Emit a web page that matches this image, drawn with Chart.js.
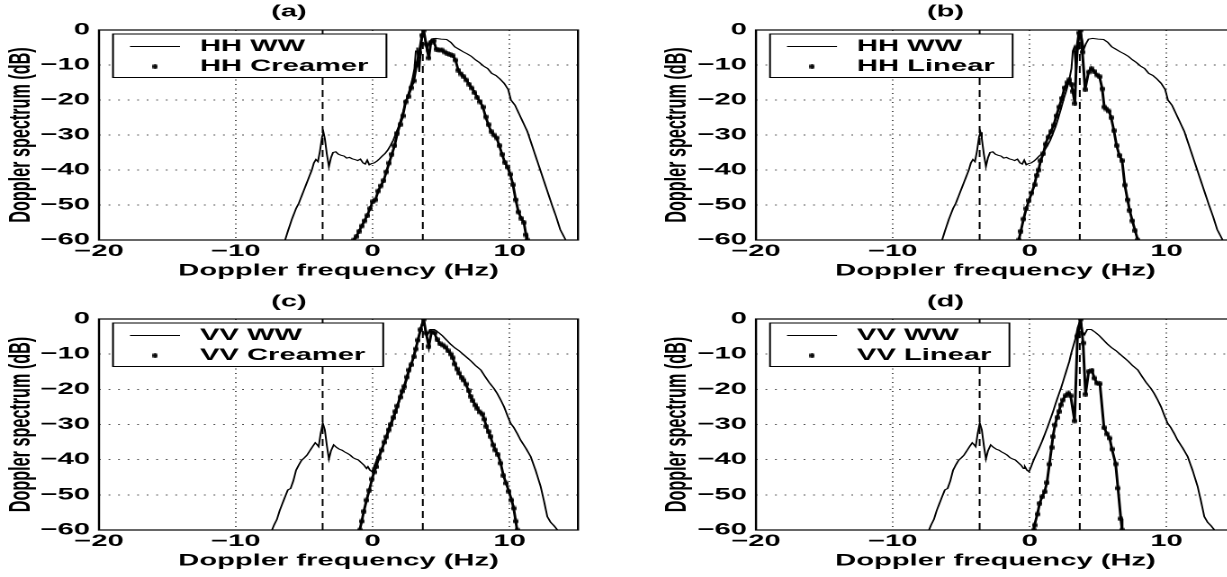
<!DOCTYPE html>
<html>
<head>
<meta charset="utf-8">
<script src="https://cdn.jsdelivr.net/npm/chart.js@4.4.0/dist/chart.umd.min.js"></script>
<style>
  html, body { margin: 0; padding: 0; background: #fff; overflow: hidden; }
  body { width: 1227px; height: 577px; position: relative; }
  .panel { position: absolute; transform-origin: 0 0; }
</style>
</head>
<body>
<div class="panel" id="pa"><canvas></canvas></div>
<div class="panel" id="pb"><canvas></canvas></div>
<div class="panel" id="pc"><canvas></canvas></div>
<div class="panel" id="pd"><canvas></canvas></div>
<script>
// axes
const xRange = [-20, 15];
const xTicks = [-20, -10, 0, 10];
const yTicks = [0, -10, -20, -30, -40, -50, -60];
const braggHz = [-3.66, 3.66];
const dbLimits = [0, -60];

// [Doppler frequency (Hz), spectrum (dB)]
const hhWW = [
  [-6.4,-60],[-6.2,-57.5],[-5.9,-54],[-5.6,-51],[-5.4,-49.5],[-5.1,-46.5],[-4.9,-44.5],[-4.6,-41.5],[-4.45,-40],
  [-4.3,-38],[-4.15,-37],[-4.0,-37.6],[-3.85,-34.5],[-3.7,-30.5],[-3.6,-29.2],[-3.5,-31],[-3.35,-35.5],[-3.2,-39],
  [-3.05,-36.5],[-2.9,-35],[-2.7,-34.8],[-2.5,-35.5],[-2.3,-35.8],[-2.1,-36],[-1.9,-36.6],[-1.7,-36.4],[-1.5,-36.8],
  [-1.3,-37],[-1.1,-37.3],[-0.9,-36.9],[-0.7,-38],[-0.55,-38.3],[-0.4,-37.2],[-0.25,-38.5],[-0.1,-38.2],[0.1,-38],
  [0.3,-37.5],[0.5,-36.8],[0.7,-36],[0.9,-35.3],[1.1,-34.3],[1.3,-33],[1.5,-31.5],[1.7,-29.5],[1.9,-27.5],[2.1,-25],
  [2.3,-22.3],[2.5,-19.5],[2.7,-17],[2.9,-14],[3.05,-11],[3.15,-6],[3.25,-5],[3.4,-12],[3.55,-4],[3.7,0],[3.85,-3],
  [3.95,-5.5],[4.1,-4],[4.3,-2.6],[4.6,-2.4],[5.0,-2.6],[5.4,-2.7],[5.7,-3.5],[6.0,-4.8],[6.3,-5.5],[6.6,-6.2],
  [6.9,-6.8],[7.2,-7.5],[7.5,-8.5],[7.8,-9.3],[8.1,-10.3],[8.4,-11],[8.7,-12.4],[9.0,-13],[9.3,-14],[9.6,-15.2],
  [9.9,-17],[10.1,-20],[10.4,-21.5],[10.7,-24],[11.0,-26.5],[11.3,-29],[11.6,-32.5],[11.9,-36],[12.2,-39.5],
  [12.5,-43],[12.8,-46.5],[13.1,-50],[13.4,-53.3],[13.7,-57],[13.9,-58.5],[14.1,-60]
];
const hhCreamer = [
  [-1.4,-60],[-1.2,-59],[-1.0,-57.5],[-0.8,-56],[-0.6,-54.5],[-0.4,-53],[-0.2,-51],[0.0,-49],[0.2,-48.5],[0.4,-46],
  [0.6,-44.5],[0.8,-43],[1.0,-40.5],[1.2,-38],[1.4,-35.5],[1.6,-33],[1.8,-29.5],[2.0,-27],[2.2,-24.5],[2.4,-20.5],
  [2.6,-19],[2.8,-16.5],[3.0,-14.5],[3.2,-10],[3.4,-6.5],[3.6,-1.5],[3.72,0],[3.9,-4],[4.1,-8],[4.25,-3.5],[4.45,-3],
  [4.65,-5.5],[4.85,-5.7],[5.05,-5.7],[5.25,-6.3],[5.45,-6.7],[5.65,-7],[5.85,-7.3],[6.05,-8.6],[6.25,-11.5],
  [6.45,-12.5],[6.65,-13.3],[6.85,-14.3],[7.05,-15.5],[7.25,-16.6],[7.45,-17.9],[7.65,-19.3],[7.85,-20.5],[8.05,-22],
  [8.25,-24.8],[8.45,-27],[8.65,-29],[8.85,-30],[9.05,-30.8],[9.25,-33],[9.45,-35.5],[9.65,-37.8],[9.85,-39.2],
  [10.05,-41.2],[10.25,-44.2],[10.45,-48.5],[10.65,-52],[10.85,-53.8],[11.05,-55],[11.2,-58.5],[11.28,-60]
];
const hhLinear = [
  [-0.8,-60],[-0.65,-57.5],[-0.45,-54],[-0.25,-51],[-0.05,-48.7],[0.15,-46.5],[0.35,-44.2],[0.5,-41.5],[0.65,-40],
  [0.8,-37.3],[1.0,-35.3],[1.15,-32.6],[1.35,-30.6],[1.55,-29],[1.75,-27.2],[1.95,-24.5],[2.15,-22],[2.35,-19.5],
  [2.55,-16.5],[2.75,-15],[2.9,-14.2],[3.05,-15.5],[3.15,-17.5],[3.3,-21],[3.45,-5],[3.6,-0.8],[3.72,0],[3.85,-6.3],
  [4.05,-17],[4.3,-12],[4.5,-11],[4.7,-11.8],[4.9,-12.8],[5.1,-13.3],[5.3,-16.8],[5.45,-22],[5.6,-22.5],[5.8,-23.2],
  [5.95,-25],[6.15,-28.7],[6.35,-33],[6.55,-35.8],[6.75,-37.3],[6.95,-44.3],[7.15,-48.5],[7.3,-51.5],[7.5,-54.5],
  [7.7,-57.3],[7.9,-60]
];
const vvWW = [
  [-7.36,-60],[-7.2,-58.5],[-7.0,-57],[-6.8,-54.5],[-6.6,-52.5],[-6.4,-50.5],[-6.2,-48.6],[-6.0,-48.2],[-5.8,-46],
  [-5.6,-43],[-5.4,-41.5],[-5.2,-40.2],[-5.0,-39.5],[-4.8,-38.7],[-4.6,-37.5],[-4.4,-36.3],[-4.2,-35.2],[-4.05,-35.8],
  [-3.95,-36.3],[-3.8,-32.5],[-3.65,-29.6],[-3.5,-31.5],[-3.35,-36],[-3.2,-39.8],[-3.05,-37.5],[-2.85,-35.8],
  [-2.65,-36.5],[-2.45,-37],[-2.25,-37.3],[-2.05,-37.8],[-1.85,-38.2],[-1.65,-38.7],[-1.45,-39.4],[-1.25,-39.8],
  [-1.05,-40.1],[-0.85,-40.8],[-0.65,-41.5],[-0.45,-42.5],[-0.35,-42],[-0.2,-43],[-0.05,-43.4],[0.1,-42],[0.3,-40],
  [0.5,-38.3],[0.7,-36.6],[0.9,-34.8],[1.1,-32.8],[1.3,-30.8],[1.5,-28.6],[1.7,-26.4],[1.9,-24],[2.1,-21.7],
  [2.3,-19.5],[2.5,-17],[2.7,-14.5],[2.9,-12],[3.05,-9.5],[3.2,-7.5],[3.35,-5.5],[3.5,-2.5],[3.72,0],[3.85,-3.5],
  [4.0,-4.5],[4.2,-3],[4.5,-3],[4.8,-3.8],[5.1,-4.8],[5.4,-6],[5.7,-7.2],[6.0,-8.2],[6.3,-9],[6.6,-10],[6.9,-11],
  [7.2,-12],[7.5,-13.2],[7.9,-14.5],[8.2,-16.3],[8.5,-18],[8.85,-19.7],[9.1,-21.2],[9.35,-23],[9.6,-25],[9.85,-27.5],
  [10.07,-29.6],[10.3,-30.8],[10.55,-32.5],[10.8,-34.4],[11.2,-36.8],[11.54,-39.1],[11.9,-43],[12.27,-47.6],
  [12.5,-51.5],[12.76,-56.2],[13.0,-57.8],[13.25,-58.8],[13.5,-60]
];
const vvCreamer = [
  [-0.95,-60],[-0.8,-57.5],[-0.65,-54.7],[-0.45,-51.5],[-0.25,-48.7],[-0.05,-45.5],[0.1,-43.5],[0.25,-42],[0.45,-39.5],
  [0.65,-37.3],[0.85,-35],[1.0,-33.5],[1.15,-31.5],[1.3,-30],[1.5,-28],[1.65,-26.3],[1.8,-24.7],[2.0,-22.2],
  [2.15,-20.5],[2.3,-19.2],[2.5,-16.5],[2.65,-14.5],[2.8,-13],[3.0,-10.7],[3.15,-8.5],[3.3,-6],[3.5,-3],[3.72,0],
  [3.9,-4],[4.1,-7.8],[4.3,-3.6],[4.5,-3.9],[4.7,-5.8],[4.9,-7],[5.1,-7.4],[5.3,-8],[5.5,-9],[5.7,-10],[5.85,-11],
  [6.0,-12.8],[6.15,-14.2],[6.3,-15.4],[6.5,-16.6],[6.65,-17.4],[6.8,-18.5],[7.0,-20.4],[7.15,-22],[7.3,-23.2],
  [7.5,-24.5],[7.65,-25.4],[7.85,-26.5],[8.0,-27],[8.15,-28.5],[8.3,-30.5],[8.45,-32],[8.6,-33.4],[8.8,-35.8],
  [8.95,-37.2],[9.15,-38.5],[9.35,-41],[9.55,-44.5],[9.75,-46.7],[9.95,-49],[10.15,-51.5],[10.3,-53.8],[10.45,-57.5],
  [10.55,-60]
];
const vvLinear = [
  [0.3,-60],[0.35,-58.6],[0.56,-55.5],[0.73,-52.4],[0.91,-50.5],[1.09,-49.1],[1.26,-46.5],[1.44,-41.3],[1.6,-36.5],
  [1.7,-33.4],[1.85,-30.1],[2.0,-28],[2.14,-26.3],[2.26,-24.4],[2.43,-23],[2.61,-21.8],[2.84,-21.1],[2.99,-21.8],
  [3.28,-29],[3.49,-4.9],[3.72,0],[3.9,-6.8],[4.08,-21.4],[4.31,-14.9],[4.55,-14.6],[4.72,-16.8],[4.9,-18.2],
  [5.13,-18.4],[5.43,-30.9],[5.66,-32.7],[5.84,-33.9],[6.01,-37],[6.28,-41.2],[6.45,-48.1],[6.66,-56.8],[6.75,-60]
];

// the original figure is stretched sideways; draw narrow and scale the box
const STRETCH = 1.8;
const FONT = '"Liberation Sans", Arial, Helvetica, sans-serif';
const FS = 16.2;
const minus = v => String(v).replace('-', '\u2212');
const pts = arr => arr.map(([x, y]) => ({x, y}));

// marker pre-squeezed so it comes out round after the stretch
const dot = document.createElement('canvas');
dot.width = 3; dot.height = 5;
(function () {
  const c = dot.getContext('2d');
  c.fillStyle = '#000';
  c.beginPath();
  c.ellipse(1.5, 2.5, 1.5, 2.5, 0, 0, Math.PI * 2);
  c.fill();
})();

// box frame + matlab-style legend inside the axes
const axesDecor = {
  id: 'axesDecor',
  afterDatasetsDraw(chart) {
    const {ctx, chartArea: a} = chart;
    const ds = chart.data.datasets;
    ctx.save();
    ctx.strokeStyle = '#000';
    ctx.lineWidth = 1.2;
    ctx.strokeRect(a.left, a.top, a.right - a.left, a.bottom - a.top);

    ctx.font = 'bold ' + FS + 'px ' + FONT;
    const tx = a.left + 101 / STRETCH;
    const tw = Math.max(ctx.measureText(ds[0].label).width, ctx.measureText(ds[1].label).width);
    const bx = a.left + 14 / STRETCH, by = a.top + 4;
    const bw = tx + tw + 18 / STRETCH - bx, bh = 43.5;
    ctx.fillStyle = '#fff';
    ctx.fillRect(bx, by, bw, bh);
    ctx.lineWidth = 1;
    ctx.strokeRect(bx, by, bw, bh);

    const r1 = a.top + 16.5, r2 = a.top + 36.5;
    ctx.strokeStyle = ds[0].borderColor;
    ctx.lineWidth = ds[0].borderWidth;
    ctx.beginPath();
    ctx.moveTo(a.left + 31 / STRETCH, r1);
    ctx.lineTo(a.left + 81 / STRETCH, r1);
    ctx.stroke();
    const mk = ds[1].pointStyle;
    ctx.drawImage(mk, a.left + 56 / STRETCH - mk.width / 2, r2 - mk.height / 2, mk.width, mk.height);

    ctx.fillStyle = '#000';
    ctx.textBaseline = 'middle';
    ctx.textAlign = 'left';
    ctx.fillText(ds[0].label, tx, r1);
    ctx.fillText(ds[1].label, tx, r2);
    ctx.restore();
  }
};

function makePanel(id, box, area, title, wwLabel, ww, modelLabel, model) {
  const wrap = document.getElementById(id);
  wrap.style.left = box.x + 'px';
  wrap.style.top = box.y + 'px';
  wrap.style.width = (box.w / STRETCH) + 'px';
  wrap.style.height = box.h + 'px';
  wrap.style.transform = 'scaleX(' + STRETCH + ')';

  const lh = FS * 1.2;
  const titleTop = area.titleY - box.y - lh / 2;
  const titleBottom = (area.t - box.y) - titleTop - lh;
  const xTitleBottom = (box.y + box.h - area.xTitleY) - lh / 2;
  const yTitleTop = area.yTitleX / STRETCH - lh / 2;
  const yAxisW = (area.l - box.x) / STRETCH;
  const padRight = (box.x + box.w - area.r) / STRETCH;
  const xAxisH = box.y + box.h - area.b;
  const font = {family: FONT, size: FS, weight: 'bold'};

  const bragg = braggHz.map(f => ({
    data: dbLimits.map(d => ({x: f, y: d})),
    borderColor: '#000', borderWidth: 1, borderDash: [7, 5], pointRadius: 0
  }));

  new Chart(wrap.querySelector('canvas'), {
    type: 'line',
    data: {
      datasets: [
        {label: wwLabel, data: pts(ww), borderColor: '#000', borderWidth: 1, pointRadius: 0, tension: 0},
        {label: modelLabel, data: pts(model), borderColor: '#000', borderWidth: 1.5, pointStyle: dot,
         pointRadius: 2.5, tension: 0},
        ...bragg
      ]
    },
    options: {
      responsive: true,
      maintainAspectRatio: false,
      animation: false,
      devicePixelRatio: 2,
      layout: {padding: {left: 0, right: padRight, top: 0, bottom: 0}},
      plugins: {
        legend: {display: false},
        tooltip: {enabled: false},
        title: {
          display: true, text: title, color: '#000', font,
          padding: {top: titleTop, bottom: titleBottom}
        }
      },
      scales: {
        x: {
          type: 'linear', min: xRange[0], max: xRange[1],
          afterBuildTicks: s => { s.ticks = xTicks.map(v => ({value: v})); },
          afterFit: s => { s.height = xAxisH; },
          ticks: {color: '#000', padding: 2, maxRotation: 0, font, callback: minus},
          grid: {color: '#555', lineWidth: 1, drawTicks: false},
          border: {display: false, dash: [1, 3.5]},
          title: {display: true, text: 'Doppler frequency (Hz)', color: '#000', font,
                  padding: {top: 0, bottom: xTitleBottom}}
        },
        y: {
          type: 'linear', min: dbLimits[1], max: dbLimits[0],
          afterBuildTicks: s => { s.ticks = yTicks.map(v => ({value: v})); },
          afterFit: s => { s.width = yAxisW; },
          ticks: {color: '#000', padding: 5, font, callback: minus},
          grid: {color: '#555', lineWidth: 1, drawTicks: false},
          border: {display: false, dash: [1, 4.3]},
          title: {display: true, text: 'Doppler spectrum (dB)', color: '#000', font,
                  padding: {top: yTitleTop, bottom: 0}}
        }
      }
    },
    plugins: [axesDecor]
  });
}

makePanel('pa', {x: 0, y: 0, w: 677, h: 290},
  {l: 99, r: 578, t: 30, b: 240, titleY: 12, xTitleY: 271, yTitleX: 22}, '(a)', 'HH WW', hhWW, 'HH Creamer', hhCreamer);
makePanel('pb', {x: 656, y: 0, w: 679, h: 290},
  {l: 756, r: 1235, t: 30, b: 240, titleY: 12, xTitleY: 271, yTitleX: 22}, '(b)', 'HH WW', hhWW, 'HH Linear', hhLinear);
makePanel('pc', {x: 0, y: 290, w: 677, h: 287},
  {l: 99, r: 578, t: 319, b: 530, titleY: 302, xTitleY: 561, yTitleX: 22}, '(c)', 'VV WW', vvWW, 'VV Creamer', vvCreamer);
makePanel('pd', {x: 656, y: 290, w: 679, h: 287},
  {l: 756, r: 1235, t: 319, b: 530, titleY: 302, xTitleY: 561, yTitleX: 22}, '(d)', 'VV WW', vvWW, 'VV Linear', vvLinear);
</script>
</body>
</html>
